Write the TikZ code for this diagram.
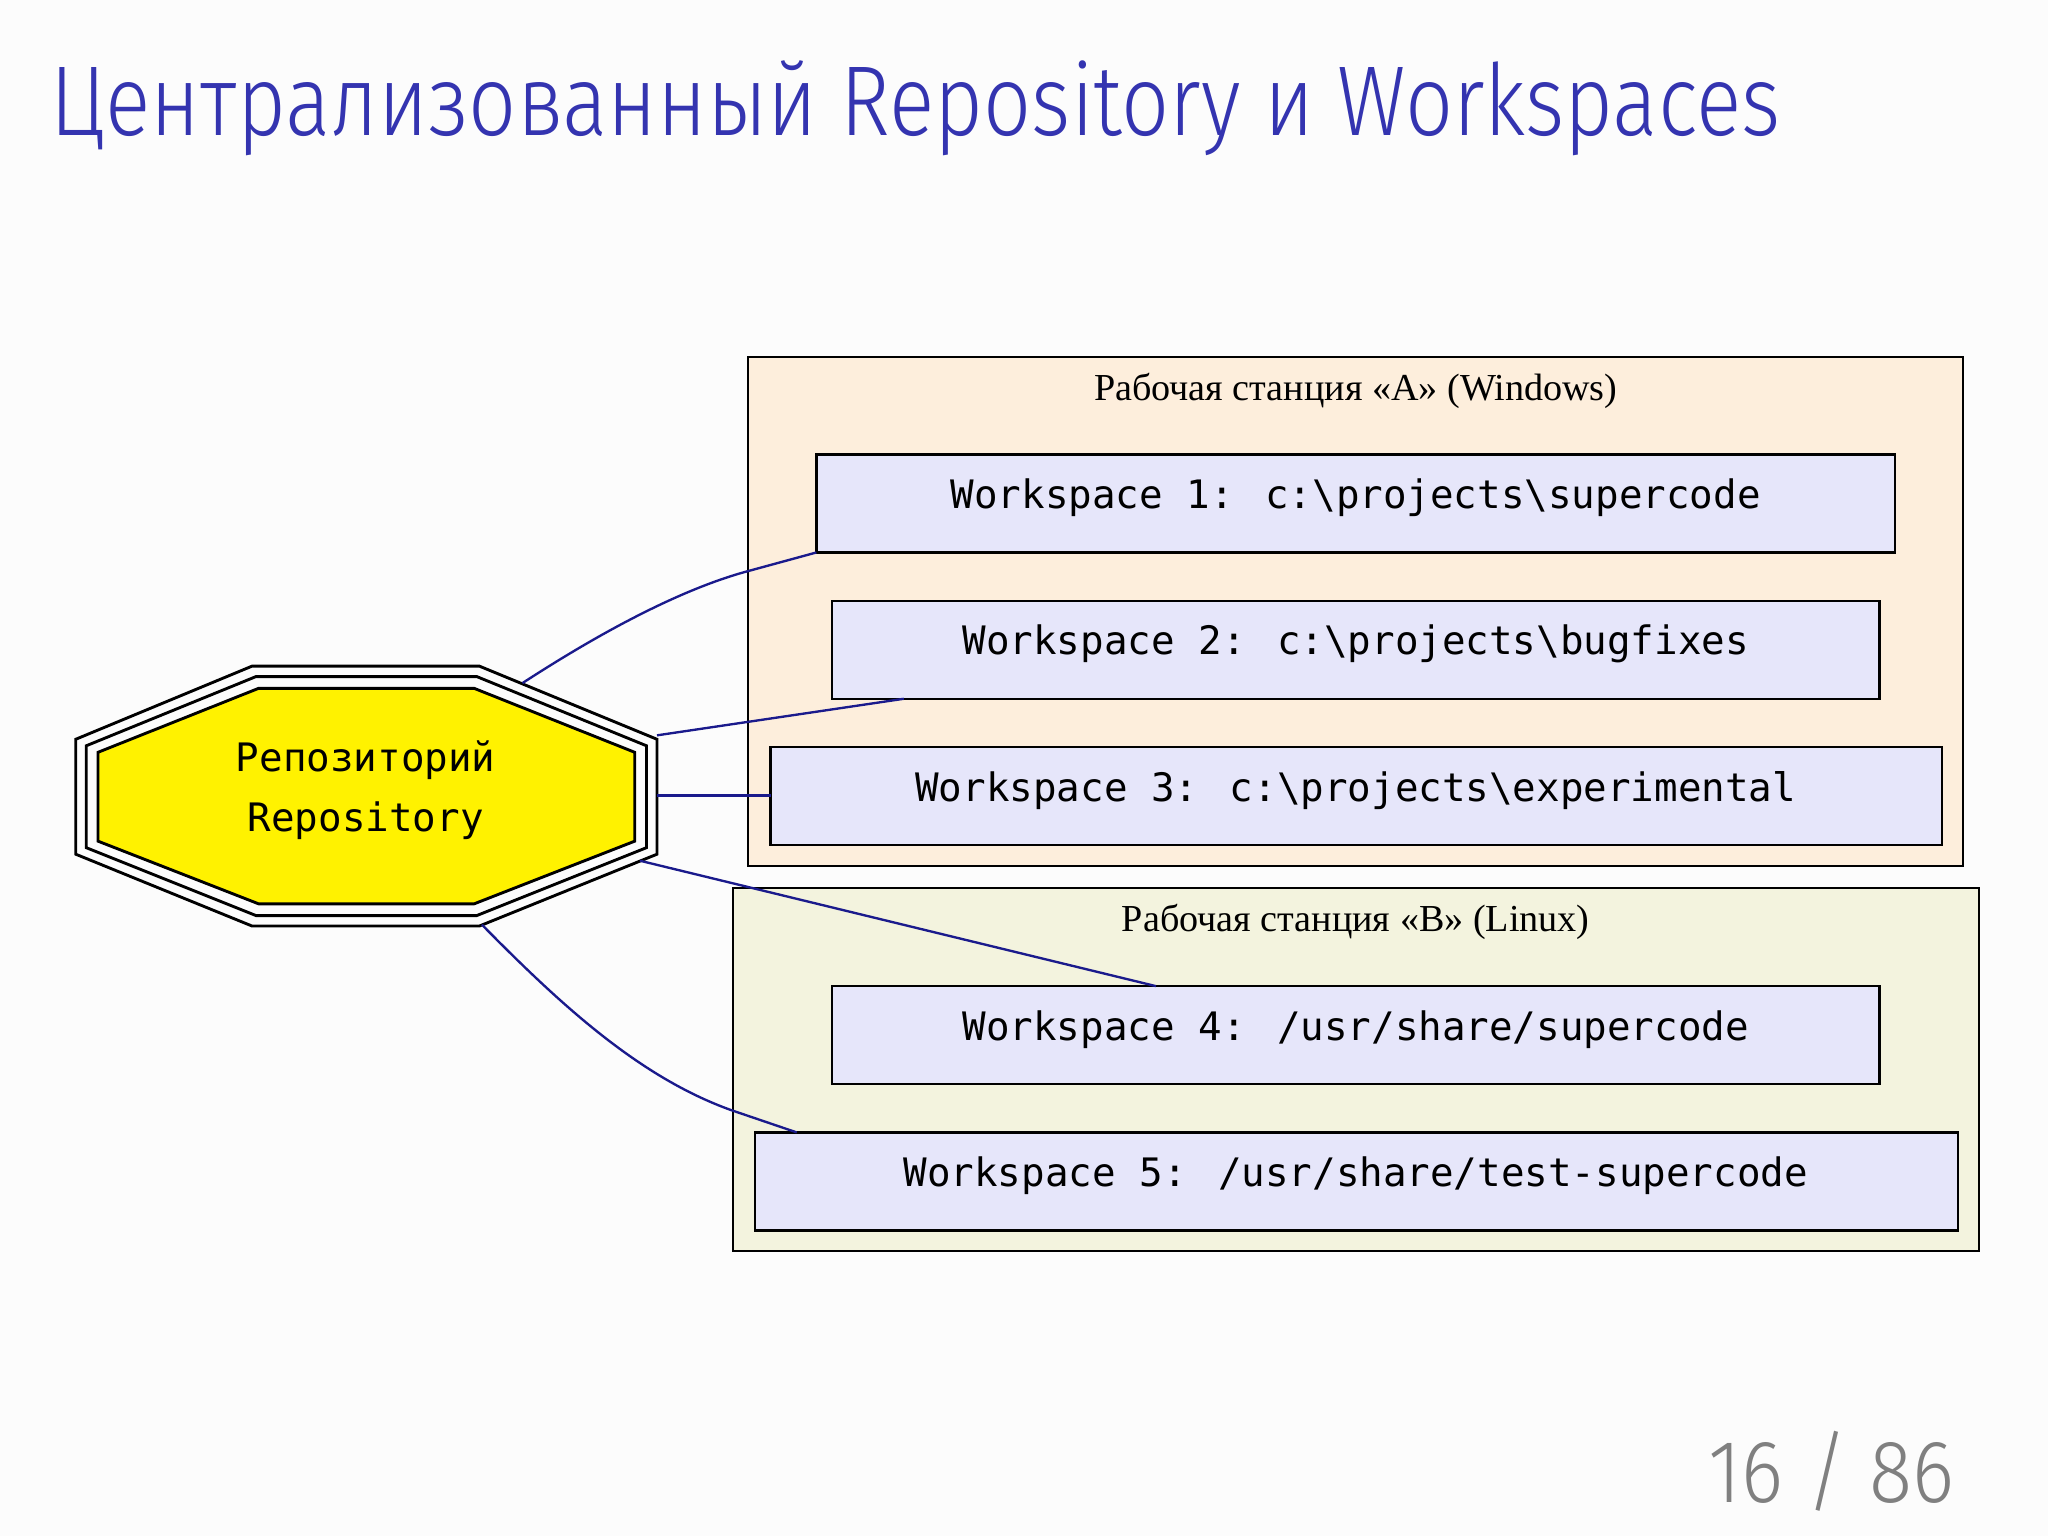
\documentclass[tikz,border=0pt]{standalone}
\usepackage{fontspec}
\usepackage{graphicx}
\setmainfont{Liberation Serif}
\newfontfamily\titlefont{Fira Sans Light}
\newfontfamily\monofont{DejaVu Sans Mono}
\definecolor{titleblue}{HTML}{3434B0}
\definecolor{peach}{HTML}{FDEEDC}
\definecolor{beige}{HTML}{F3F3DE}
\definecolor{lav}{HTML}{E6E6FA}
\definecolor{edgeblue}{HTML}{1A1A8C}
\begin{document}
\begin{tikzpicture}[x=0.5pt,y=-0.5pt,
  ws/.style={draw=black,fill=lav,line width=0.9pt},
  wst/.style={font=\monofont\fontsize{15}{17}\selectfont,anchor=center},
  cl/.style={draw=black,line width=0.8pt},
  clt/.style={font=\fontsize{14.6}{16}\selectfont,anchor=center},
  conn/.style={draw=edgeblue,line width=0.9pt}]
\useasboundingbox[fill=white!98!gray] (0,0) rectangle (1568,1176);
\node[anchor=base west,inner sep=0,text=titleblue,font=\titlefont\fontsize{38}{42}\selectfont] (title) at (38,104) {\scalebox{0.85}[1]{Централизованный Repository и Workspaces}};
% clusters
\draw[cl,fill=peach] (573,273) rectangle (1503,663);
\node[clt] (la) at (1038,299) {Рабочая станция «A» (Windows)};
\draw[cl,fill=beige] (561,680) rectangle (1515,958);
\node[clt] (lb) at (1038,706) {Рабочая станция «B» (Linux)};
% workspaces
\draw[ws] (625,348) rectangle (1451,423); \node[wst] (w1) at (1038,381) {Workspace 1: c:\textbackslash projects\textbackslash supercode};
\draw[ws] (637,460) rectangle (1439,535); \node[wst] (w2) at (1038,493) {Workspace 2: c:\textbackslash projects\textbackslash bugfixes};
\draw[ws] (590,572) rectangle (1487,647); \node[wst] (w3) at (1038,605) {Workspace 3: c:\textbackslash projects\textbackslash experimental};
\draw[ws] (637,755) rectangle (1439,830); \node[wst] (w4) at (1038,788) {Workspace 4: /usr/share/supercode};
\draw[ws] (578,867) rectangle (1499,942); \node[wst] (w5) at (1038,900) {Workspace 5: /usr/share/test-supercode};
\coordinate (c1) at (625,423); \coordinate (c2) at (692,535); \coordinate (c3) at (590,609);
\coordinate (c4) at (885,755); \coordinate (c5) at (610,867);
% octagon
\draw[line width=1.1pt] (193,510)--(367,510)--(503,566)--(503,654)--(367,709)--(193,709)--(58,654)--(58,566)--cycle;
\draw[line width=1.1pt] (196,518)--(365,518)--(495,571)--(495,649)--(365,701)--(196,701)--(66,649)--(66,571)--cycle;
\draw[line width=1.1pt,fill=yellow] (198,527)--(363,527)--(486,576)--(486,644)--(363,692)--(198,692)--(75,644)--(75,576)--cycle;
\node[font=\monofont\fontsize{15}{17}\selectfont,align=center] (repo) at (280,605) {Репозиторий\\[6pt]Repository};
\coordinate (o1) at (400,523); \coordinate (o2) at (503,563); \coordinate (o3) at (503,609);
\coordinate (o4) at (490,659); \coordinate (o5) at (369,708);
\draw[conn] (o1) .. controls (460,484) and (520,452) .. (570,438) -- (c1);
\draw[conn] (o2) -- (c2);
\draw[conn] (o3) -- (c3);
\draw[conn] (o4) -- (c4);
\draw[conn] (o5) .. controls (430,770) and (490,825) .. (560,850) -- (c5);
\node[anchor=base east,inner sep=0,text=gray,font=\titlefont\fontsize{34}{38}\selectfont] (pg) at (1497,1150) {\scalebox{0.9}[1]{16 / 86}};
\end{tikzpicture}
\end{document}
